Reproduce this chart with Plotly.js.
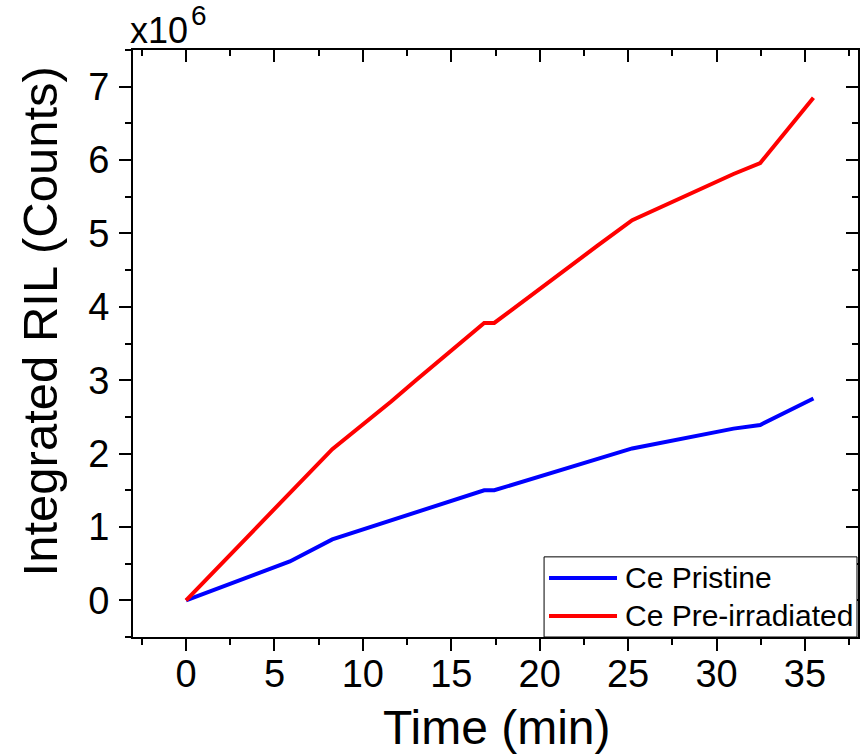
<!DOCTYPE html>
<html>
<head>
<meta charset="utf-8">
<script src="https://cdn.plot.ly/plotly-3.0.1.min.js"></script>
<style>html,body{margin:0;padding:0;background:#fff;}#chart{width:860px;height:754px;}</style>
</head>
<body>
<div id="chart"></div>
<script>
// Data (values in units of 10^6 counts)
const timeMin = [0, 5.87, 8.27, 11.6, 13.0, 16.86, 17.43, 23.25, 25.23, 30.96, 32.47, 35.48];
const cePristine = [0, 0.53, 0.83, 1.09, 1.20, 1.50, 1.50, 1.92, 2.07, 2.34, 2.39, 2.75];
const cePreIrradiated = [0, 1.46, 2.06, 2.71, 3.00, 3.78, 3.78, 4.83, 5.18, 5.81, 5.96, 6.85];
const seriesNames = ["Ce Pristine", "Ce Pre-irradiated"];
const seriesColors = ["#0000ff", "#ff0000"];
const xTickVals = [0, 5, 10, 15, 20, 25, 30, 35];
const yTickVals = [0, 1, 2, 3, 4, 5, 6, 7];

const FONT = "Liberation Sans, Arial, Helvetica, sans-serif";
const xRange = [-3, 38];
const yRange = [-0.5, 7.5];

const traces = [
  {x: timeMin, y: cePristine, name: seriesNames[0], type: "scatter", mode: "lines",
   line: {color: seriesColors[0], width: 4}, showlegend: false},
  {x: timeMin, y: cePreIrradiated, name: seriesNames[1], type: "scatter", mode: "lines",
   line: {color: seriesColors[1], width: 4}, showlegend: false},
  // empty helper traces so the mirrored top/right frame axes get drawn
  {x: [], y: [], xaxis: "x2", yaxis: "y", showlegend: false, hoverinfo: "skip"},
  {x: [], y: [], xaxis: "x", yaxis: "y2", showlegend: false, hoverinfo: "skip"}
];

const axisCommon = {
  showline: true, linecolor: "#000", linewidth: 2,
  showgrid: false, zeroline: false,
  tickcolor: "#000", tickwidth: 2, ticklen: 12,
  tickfont: {family: FONT, size: 38, color: "#000"}
};

// manual legend geometry (paper coordinates)
const legX0 = 0.567, legX1 = 0.9986, legY1 = 0.1365;
const legRowY = [0.1007, 0.0358];
const legLineX = [0.5738, 0.6676];
const legTextX = 0.676;

const shapes = [
  {type: "rect", xref: "paper", yref: "paper", x0: legX0, x1: legX1, y0: 0, y1: legY1,
   line: {color: "#000", width: 1}, fillcolor: "#fff", layer: "above"}
];
const annotations = [
  {text: "Time (min)", xref: "paper", yref: "paper", x: 0.502, y: -0.155,
   xanchor: "center", yanchor: "middle", showarrow: false,
   font: {family: FONT, size: 48, color: "#000"}},
  {text: "Integrated RIL (Counts)", xref: "paper", yref: "paper", x: -0.128, y: 0.538,
   xanchor: "center", yanchor: "middle", textangle: -90, showarrow: false,
   font: {family: FONT, size: 49, color: "#000"}},
  {text: "x10", xref: "paper", yref: "paper", x: -0.004, y: 1.0,
   xanchor: "left", yanchor: "bottom", showarrow: false, xshift: -2, yshift: -3,
   font: {family: FONT, size: 36, color: "#000"}},
  {text: "6", xref: "paper", yref: "paper", x: 0.077, y: 1.0,
   xanchor: "left", yanchor: "bottom", showarrow: false, yshift: 17,
   font: {family: FONT, size: 28, color: "#000"}}
];
seriesNames.forEach(function (name, i) {
  shapes.push({type: "line", xref: "paper", yref: "paper",
    x0: legLineX[0], x1: legLineX[1], y0: legRowY[i], y1: legRowY[i],
    line: {color: seriesColors[i], width: 4}, layer: "above"});
  annotations.push({text: name, xref: "paper", yref: "paper", x: legTextX, y: legRowY[i],
    xanchor: "left", yanchor: "middle", showarrow: false,
    font: {family: FONT, size: 30, color: "#000"}});
});

const layout = {
  width: 860, height: 754,
  margin: {l: 133, r: 2, t: 50, b: 117},
  paper_bgcolor: "#fff", plot_bgcolor: "#fff",
  font: {family: FONT, color: "#000"},
  showlegend: false,
  xaxis: Object.assign({}, axisCommon, {
    range: xRange, tickmode: "array", tickvals: xTickVals, ticktext: xTickVals.map(String),
    ticks: "outside", ticklabelstandoff: -10,
    minor: {dtick: 2.5, tick0: 0, ticks: "outside", ticklen: 6, tickwidth: 2, tickcolor: "#000", showgrid: false}
  }),
  yaxis: Object.assign({}, axisCommon, {
    range: yRange, tickmode: "array", tickvals: yTickVals, ticktext: yTickVals.map(String),
    ticks: "outside", ticklabelstandoff: 2,
    minor: {dtick: 0.5, tick0: 0, ticks: "outside", ticklen: 6, tickwidth: 2, tickcolor: "#000", showgrid: false}
  }),
  xaxis2: {
    overlaying: "x", side: "top", anchor: "y", range: xRange,
    showline: true, linecolor: "#000", linewidth: 2, showgrid: false, zeroline: false,
    ticks: "inside", ticklen: 12, tickwidth: 2, tickcolor: "#000", showticklabels: false,
    tickmode: "array", tickvals: xTickVals,
    minor: {dtick: 2.5, tick0: 0, ticks: "inside", ticklen: 6, tickwidth: 2, tickcolor: "#000", showgrid: false}
  },
  yaxis2: {
    overlaying: "y", side: "right", anchor: "x", range: yRange,
    showline: true, linecolor: "#000", linewidth: 2, showgrid: false, zeroline: false,
    ticks: "inside", ticklen: 12, tickwidth: 2, tickcolor: "#000", showticklabels: false,
    tickmode: "array", tickvals: yTickVals,
    minor: {dtick: 0.5, tick0: 0, ticks: "inside", ticklen: 6, tickwidth: 2, tickcolor: "#000", showgrid: false}
  },
  shapes: shapes,
  annotations: annotations
};

Plotly.newPlot("chart", traces, layout, {displayModeBar: false, staticPlot: true});
</script>
</body>
</html>
